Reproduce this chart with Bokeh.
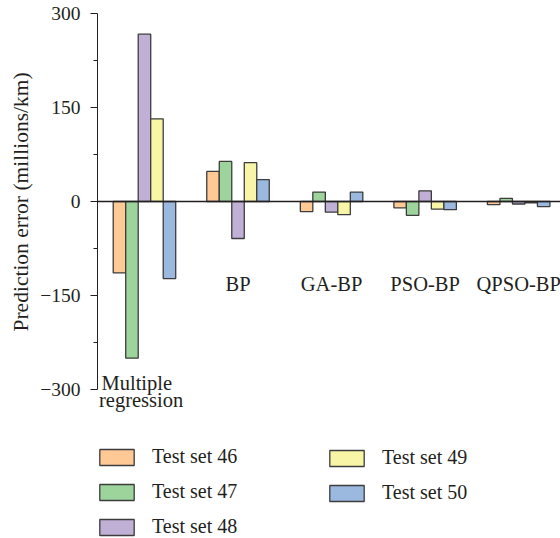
from bokeh.plotting import figure
from bokeh.models import (Range1d, FixedTicker, CustomJSTickFormatter, Span,
                          Legend, LegendItem, Label, Title)
from bokeh.embed import file_html
from bokeh.resources import INLINE

# ---- data ----
categories = ["Multiple regression", "BP", "GA-BP", "PSO-BP", "QPSO-BP"]
series_names = ["Test set 46", "Test set 47", "Test set 48", "Test set 49", "Test set 50"]
test_set_46 = [-114, 48, -16, -10, -5]
test_set_47 = [-250, 64, 15, -22, 5]
test_set_48 = [267, -59, -17, 17, -4]
test_set_49 = [132, 62, -21, -12, -2]
test_set_50 = [-123, 35, 15, -13, -8]
y_ticks = [-300, -150, 0, 150, 300]
y_minor_ticks = [-225, -75, 75, 225]

series_values = [test_set_46, test_set_47, test_set_48, test_set_49, test_set_50]
colors = ["#FEC995", "#9DD49B", "#C1B0D6", "#F8F5A6", "#9BB8DF"]

FONT = "Liberation Serif"
TXT = "#231f20"

p = figure(width=560, height=538, output_backend="svg", toolbar_location=None,
           x_range=Range1d(-0.502, 4.447), y_range=Range1d(-537.7, 300),
           x_axis_location=None,
           min_border_left=97, min_border_right=0, min_border_top=13, min_border_bottom=0)
p.outline_line_color = None
p.grid.visible = False
p.background_fill_color = "white"

bar_w = 0.1336
xs = list(range(len(categories)))
renderers = []
for k, (vals, col) in enumerate(zip(series_values, colors)):
    off = (k - 2) * bar_w
    r = p.vbar(x=[x + off for x in xs], top=vals, bottom=0, width=bar_w,
               fill_color=col, line_color="#3c3c3c", line_width=1.3)
    renderers.append(r)

p.add_layout(Span(location=0, dimension="width", line_color=TXT, line_width=1.3))

ax = p.yaxis[0]
ax.bounds = (-300, 300)
ax.ticker = FixedTicker(ticks=y_ticks, minor_ticks=y_minor_ticks)
ax.formatter = CustomJSTickFormatter(code="return tick < 0 ? '\u2212' + Math.abs(tick) : String(tick);")
ax.major_tick_out = 7
ax.major_tick_in = 0
ax.minor_tick_out = 4
ax.minor_tick_in = 0
ax.axis_line_color = TXT
ax.major_tick_line_color = TXT
ax.minor_tick_line_color = TXT
ax.major_label_text_font = FONT
ax.major_label_text_font_size = "19.5px"
ax.major_label_text_color = TXT
ax.major_label_standoff = 10

# y-axis title, centred on the -300..300 span
p.add_layout(Title(text="Prediction error (millions/km)", align="left", offset=207,
                   text_font=FONT, text_font_size="21.5px", text_font_style="normal",
                   text_color=TXT, standoff=10), "left")

# category labels
lab_kw = dict(text_baseline="middle", text_font=FONT, text_font_size="20.5px", text_color=TXT)
for i, name in enumerate(categories):
    if i == 0:
        words = name.split(" ")
        p.add_layout(Label(x=i, y=-289, text=words[0], x_offset=-43, text_align="left", **lab_kw))
        p.add_layout(Label(x=i, y=-317.5, text=words[1], x_offset=-45.5, text_align="left", **lab_kw))
    else:
        p.add_layout(Label(x=i, y=-131, text=name, text_align="center", **lab_kw))

items = [LegendItem(label=n, renderers=[r]) for n, r in zip(series_names, renderers)]

def make_legend(its, loc):
    return Legend(items=its, location=loc, padding=0, margin=0, spacing=12,
                  glyph_width=43, glyph_height=20, label_standoff=14, label_height=22,
                  label_text_font=FONT, label_text_font_size="20px", label_text_color=TXT,
                  border_line_color=None, background_fill_alpha=0)

p.add_layout(make_legend(items[:3], (-2, 0)))
p.add_layout(make_legend(items[3:], (228, 34)))

open("out.html", "w").write(file_html(p, INLINE))
